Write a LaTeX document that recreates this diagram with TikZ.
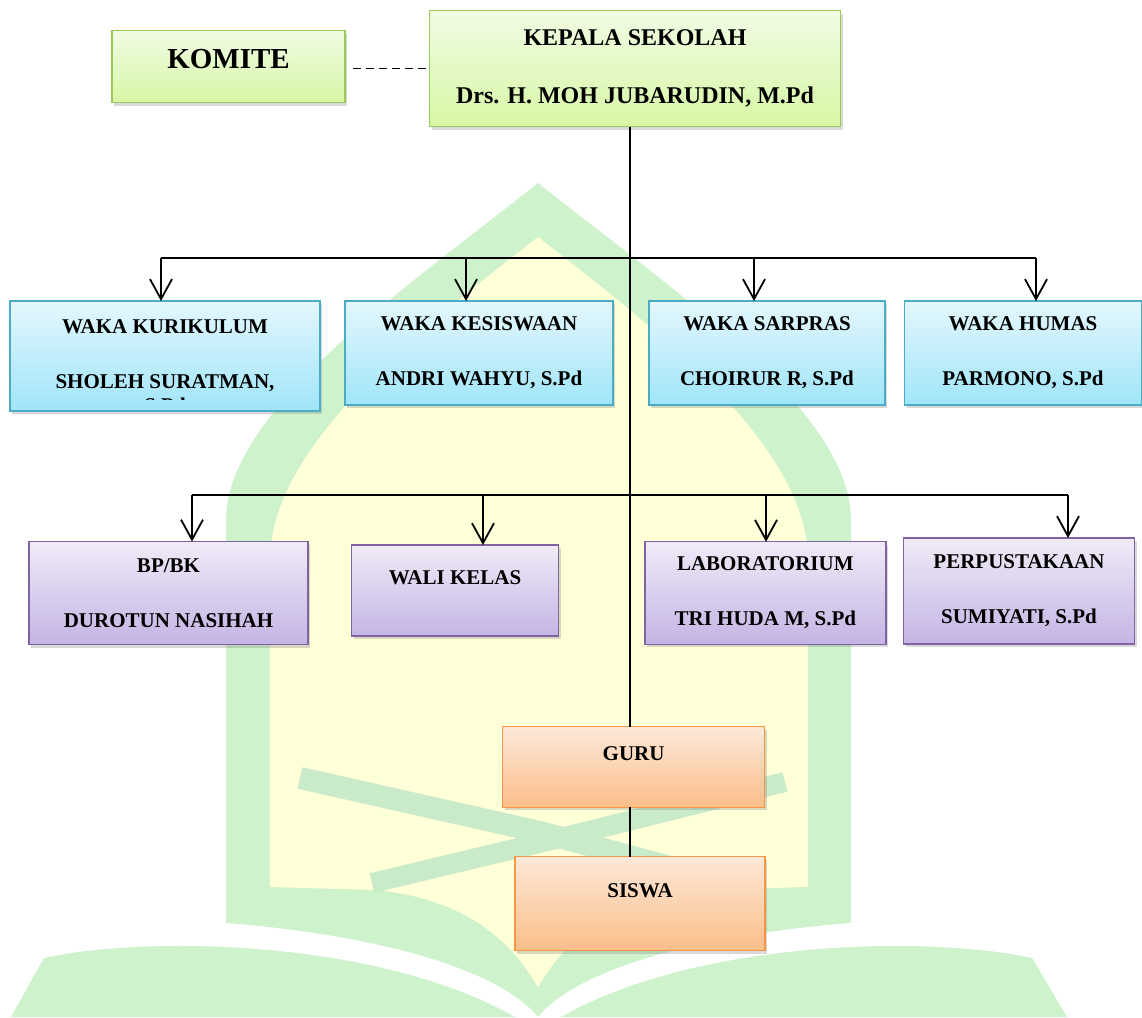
\documentclass[tikz,border=0pt]{standalone}
\usepackage{fontspec}
\setmainfont{Liberation Serif}
\usetikzlibrary{arrows.meta,shadows}

\definecolor{wmgreen}{RGB}{206,242,204}
\definecolor{wmyellow}{RGB}{255,255,216}
\definecolor{wmquill}{RGB}{202,235,201}
\definecolor{grtop}{RGB}{241,252,228}
\definecolor{grbot}{RGB}{214,247,165}
\definecolor{grline}{RGB}{155,200,90}
\definecolor{bltop}{RGB}{228,247,253}
\definecolor{blbot}{RGB}{160,229,249}
\definecolor{blline}{RGB}{75,172,198}
\definecolor{putop}{RGB}{240,235,248}
\definecolor{pubot}{RGB}{196,180,228}
\definecolor{puline}{RGB}{128,100,162}
\definecolor{ortop}{RGB}{253,232,216}
\definecolor{orbot}{RGB}{251,190,138}
\definecolor{orline}{RGB}{247,150,70}

\tikzset{
    boxfont/.style={font=\fontsize{21}{25}\selectfont\bfseries},
    box/.style={boxfont,line width=1.4pt,inner sep=2pt,outer sep=0pt,align=center,
        drop shadow={shadow xshift=2pt,shadow yshift=-3pt,opacity=.3}},
    greenbox/.style={box,draw=grline,top color=grtop,bottom color=grbot},
    bluebox/.style={box,draw=blline,top color=bltop,bottom color=blbot},
    purplebox/.style={box,draw=puline,top color=putop,bottom color=pubot},
    orangebox/.style={box,draw=orline,top color=ortop,bottom color=orbot},
    toptext/.style={text depth=26pt},
    link/.style={line width=1.8pt},
    arr/.style={link,-{Straight Barb[length=20pt,width=22pt]}},
    dashline/.style={line width=1.5pt,dash pattern=on 8pt off 5pt,shorten <=8pt}
}

\begin{document}
\begin{tikzpicture}[x=1pt,y=-1pt]
    \useasboundingbox (0,0) rectangle (1142,1017);
    % logo behind the chart
    \fill[wmgreen] (226,923) -- (226,520) .. controls (226,410) and (410,285) .. (538,183)
        .. controls (666,285) and (851,410) .. (851,520) -- (851,923)
        .. controls (696,935) and (576,970) .. (538,1017)
        .. controls (500,970) and (380,935) .. (226,923) -- cycle;
    \fill[wmyellow] (270,887) -- (270,560) .. controls (270,445) and (425,325) .. (538,237)
        .. controls (651,325) and (808,445) .. (808,560) -- (808,887)
        -- (700,890) .. controls (600,900) and (560,950) .. (538,987)
        .. controls (516,950) and (476,900) .. (376,890) -- (270,887) -- cycle;
    \draw[wmquill,line width=22pt] (300,778) -- (540,832) -- (700,875);
    \draw[wmquill,line width=20pt] (372,883) -- (560,838) -- (785,782);
    \fill[wmgreen] (11,1017) -- (44,958) .. controls (150,935) and (380,940) .. (515,1017) -- cycle;
    \fill[wmgreen] (1067,1017) -- (1032,958) .. controls (926,935) and (696,940) .. (561,1017) -- cycle;

    \node[greenbox,minimum width=233pt,minimum height=72pt,
        font=\fontsize{29}{35}\selectfont\bfseries,text depth=15pt] (komite) at (228.5,66.7) {KOMITE};
    \node[greenbox,minimum width=411pt,minimum height=116pt,
        font=\fontsize{24}{29}\selectfont\bfseries] (kepala) at (635,68.7)
        {KEPALA SEKOLAH\\[29pt]Drs. H. MOH JUBARUDIN, M.Pd};

    % wakil kepala
    \node[bluebox,minimum width=310pt,minimum height=110pt] (kur) at (165,356)
        {WAKA KURIKULUM\\[30pt]SHOLEH SURATMAN,};
    \node[bluebox,minimum width=268pt,minimum height=104pt] (kes) at (479,353)
        {WAKA KESISWAAN\\[30pt]ANDRI WAHYU, S.Pd};
    \node[bluebox,minimum width=236pt,minimum height=104pt] (sar) at (767,353)
        {WAKA SARPRAS\\[30pt]CHOIRUR R, S.Pd};
    \node[bluebox,minimum width=237pt,minimum height=104pt] (hum) at (1023,353)
        {WAKA HUMAS\\[30pt]PARMONO, S.Pd};
    \begin{scope}
        \clip (kur.north west) rectangle (320,399);
        \node[boxfont,anchor=base] (kurpd) at (165,412) {S.Pd};
    \end{scope}

    % unit pelayanan
    \node[purplebox,minimum width=279pt,minimum height=103pt] (bk) at (168.5,593)
        {BP/BK\\[30pt]DUROTUN NASIHAH};
    \node[purplebox,toptext,minimum width=207pt,minimum height=91pt] (wali) at (455,590.5)
        {WALI KELAS};
    \node[purplebox,minimum width=241pt,minimum height=102.5pt] (lab) at (765.3,593)
        {LABORATORIUM\\[30pt]TRI HUDA M, S.Pd};
    \node[purplebox,minimum width=231pt,minimum height=106pt] (pus) at (1019,591)
        {PERPUSTAKAAN\\[30pt]SUMIYATI, S.Pd};

    \node[orangebox,toptext,minimum width=262pt,minimum height=80.6pt] (guru) at (633.6,767) {GURU};
    \node[orangebox,toptext,minimum width=250pt,minimum height=94pt] (siswa) at (640,903.7) {SISWA};

    \foreach \nm/\ax in {kur/161,kes/466,sar/754,hum/1036}{
        \coordinate (t\nm) at (\ax,258);
        \draw[arr] (t\nm) -- (t\nm|-\nm.north);
    }
    \foreach \nm/\ax in {bk/192,wali/483,lab/766,pus/1068}{
        \coordinate (t\nm) at (\ax,495);
        \draw[arr] (t\nm) -- (t\nm|-\nm.north);
    }

    \coordinate (spine) at (630,0);
    \draw[link] (tkur) -- (thum);
    \draw[link] (tbk) -- (tpus);
    \draw[link] (kepala.south-|spine) -- (guru.north-|spine);
    \draw[link,line width=1.5pt] (guru.south-|spine) -- (siswa.north-|spine);
    \draw[dashline] (komite.east|-kepala.west) -- (kepala.west);
\end{tikzpicture}
\end{document}
